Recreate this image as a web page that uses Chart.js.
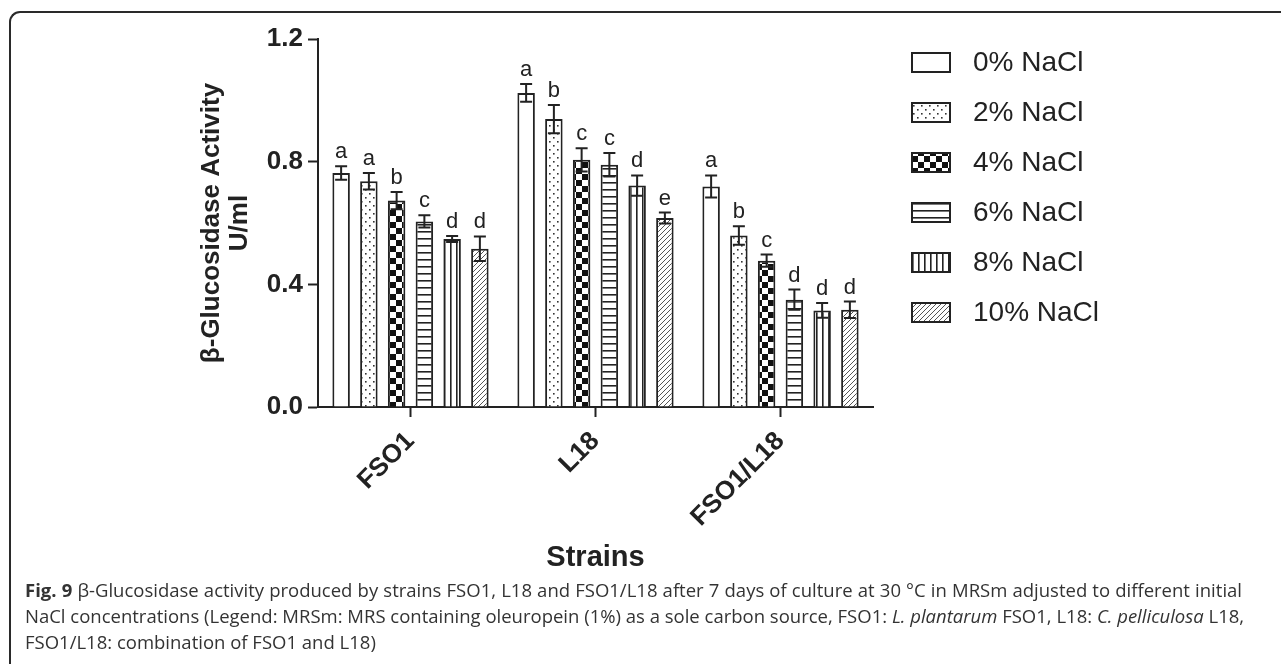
<!DOCTYPE html>
<html>
<head>
<meta charset="utf-8">
<script src="https://cdn.jsdelivr.net/npm/chart.js@4.4.1/dist/chart.umd.min.js"></script>
<style>
  html, body { margin: 0; padding: 0; background: #fff; }
  #wrap { position: relative; width: 1281px; height: 664px; overflow: hidden; }
  #frame {
    position: absolute; left: 9px; top: 11px; width: 1300px; height: 700px;
    border-left: 2px solid #2a2a2a; border-top: 2px solid #2a2a2a;
    border-top-left-radius: 11px;
  }
  #chart { position: absolute; left: 0; top: 0; }
  #caption {
    position: absolute; left: 25px; top: 577px; width: 1217px;
    font-family: "Open Sans", sans-serif; font-size: 18.5px; line-height: 26px; color: #333;
  }
  #caption .ln { white-space: nowrap; text-align: justify; text-align-last: justify; }
  #caption .ln.last { text-align: left; text-align-last: left; }
</style>
</head>
<body>
<div id="wrap">
  <div id="frame"></div>
  <canvas id="chart" width="1281" height="664"></canvas>
  <div id="caption">
    <div class="ln"><b>Fig. 9</b> β-Glucosidase activity produced by strains FSO1, L18 and FSO1/L18 after 7 days of culture at 30 °C in MRSm adjusted to different initial</div>
    <div class="ln">NaCl concentrations (Legend: MRSm: MRS containing oleuropein (1%) as a sole carbon source, FSO1: <i>L. plantarum</i> FSO1, L18: <i>C. pelliculosa</i> L18,</div>
    <div class="ln last">FSO1/L18: combination of FSO1 and L18)</div>
  </div>
</div>
<script>
// strains on the x axis
const strains = ["FSO1", "L18", "FSO1/L18"];
const saltLabels = ["0% NaCl", "2% NaCl", "4% NaCl", "6% NaCl", "8% NaCl", "10% NaCl"];

// mean activity (U/ml) per NaCl level, one value per strain
const nacl0  = [0.763, 1.024, 0.719];
const nacl2  = [0.736, 0.939, 0.559];
const nacl4  = [0.673, 0.806, 0.477];
const nacl6  = [0.605, 0.790, 0.350];
const nacl8  = [0.548, 0.722, 0.315];
const nacl10 = [0.516, 0.616, 0.317];

// standard deviations
const sd0  = [0.022, 0.029, 0.036];
const sd2  = [0.027, 0.046, 0.030];
const sd4  = [0.028, 0.038, 0.020];
const sd6  = [0.020, 0.038, 0.033];
const sd8  = [0.010, 0.033, 0.024];
const sd10 = [0.040, 0.018, 0.027];

// significance letters
const sig0  = ["a", "a", "a"];
const sig2  = ["a", "b", "b"];
const sig4  = ["b", "c", "c"];
const sig6  = ["c", "c", "d"];
const sig8  = ["d", "d", "d"];
const sig10 = ["d", "e", "d"];

const yTicks = [0, 0.4, 0.8, 1.2];

const values = [nacl0, nacl2, nacl4, nacl6, nacl8, nacl10];
const errors = [sd0, sd2, sd4, sd6, sd8, sd10];
const letters = [sig0, sig2, sig4, sig6, sig8, sig10];

const INK = "#222";
const FONT = "'Liberation Sans', Arial, sans-serif";

function tile(w, h, paint) {
  const c = document.createElement("canvas");
  c.width = w; c.height = h;
  const g = c.getContext("2d");
  g.fillStyle = "#fff";
  g.fillRect(0, 0, w, h);
  paint(g);
  return document.getElementById("chart").getContext("2d").createPattern(c, "repeat");
}

// bar fills: open, dotted, checker, horizontal, vertical, hatched
const fills = [
  "#fff",
  tile(8, 8, g => { g.fillStyle = "#333"; g.fillRect(1, 1, 1.6, 1.6); g.fillRect(5, 5, 1.6, 1.6); }),
  tile(12, 12, g => { g.fillStyle = "#111"; g.fillRect(0, 0, 6, 6); g.fillRect(6, 6, 6, 6); }),
  tile(8, 7, g => { g.fillStyle = "#222"; g.fillRect(0, 0, 8, 1.6); }),
  tile(6, 8, g => { g.fillStyle = "#222"; g.fillRect(0, 0, 1.6, 8); }),
  tile(5, 5, g => {
    g.strokeStyle = "#555"; g.lineWidth = 1;
    g.beginPath();
    g.moveTo(-1, 6); g.lineTo(6, -1);
    g.moveTo(-1, 1); g.lineTo(1, -1);
    g.moveTo(4, 6); g.lineTo(6, 4);
    g.stroke();
  })
];

const extras = {
  id: "extras",
  afterDatasetsDraw(chart) {
    const ctx = chart.ctx;
    const y = chart.scales.y;
    ctx.save();
    ctx.strokeStyle = INK;
    ctx.fillStyle = INK;
    ctx.lineWidth = 2;
    values.forEach((vals, d) => {
      const meta = chart.getDatasetMeta(d);
      meta.data.forEach((bar, i) => {
        const top = y.getPixelForValue(vals[i] + errors[d][i]);
        const bot = y.getPixelForValue(vals[i] - errors[d][i]);
        ctx.beginPath();
        ctx.moveTo(bar.x, top); ctx.lineTo(bar.x, bot);
        ctx.moveTo(bar.x - 6, top); ctx.lineTo(bar.x + 6, top);
        ctx.moveTo(bar.x - 6, bot); ctx.lineTo(bar.x + 6, bot);
        ctx.stroke();
        ctx.font = "22px " + FONT;
        ctx.textAlign = "center";
        ctx.textBaseline = "alphabetic";
        ctx.fillText(letters[d][i], bar.x, top - 8);
      });
    });
    ctx.restore();
  },
  afterDraw(chart) {
    const ctx = chart.ctx;
    const area = chart.chartArea;
    ctx.save();
    ctx.fillStyle = INK;

    // y axis title, two lines
    ctx.font = "bold 26px " + FONT;
    ctx.textAlign = "center";
    ctx.textBaseline = "middle";
    const cy = (area.top + area.bottom) / 2;
    ctx.save();
    ctx.translate(212, cy);
    ctx.rotate(-Math.PI / 2);
    ctx.fillText("β-Glucosidase Activity", 0, 0);
    ctx.restore();
    ctx.save();
    ctx.translate(240, cy);
    ctx.rotate(-Math.PI / 2);
    ctx.fillText("U/ml", 0, 0);
    ctx.restore();

    // x axis title
    ctx.font = "bold 29px " + FONT;
    ctx.fillText("Strains", (area.left + area.right) / 2, 558);

    // legend
    chart.data.datasets.forEach((ds, d) => {
      const by = 53 + d * 50;
      ctx.fillStyle = ds.backgroundColor;
      ctx.fillRect(912, by, 38, 19);
      ctx.strokeStyle = INK;
      ctx.lineWidth = 2;
      ctx.strokeRect(912, by, 38, 19);
      ctx.fillStyle = INK;
      ctx.font = "28px " + FONT;
      ctx.textAlign = "left";
      ctx.textBaseline = "middle";
      ctx.fillText(ds.label, 973, by + 10);
    });
    ctx.restore();
  }
};

new Chart(document.getElementById("chart"), {
  type: "bar",
  data: {
    labels: strains,
    datasets: values.map((vals, d) => ({
      label: saltLabels[d],
      data: vals,
      backgroundColor: fills[d],
      borderColor: INK,
      borderWidth: 2,
      categoryPercentage: 0.9,
      barPercentage: 0.63
    }))
  },
  options: {
    responsive: false,
    animation: false,
    events: [],
    layout: { padding: { left: 0, top: 39, right: 408, bottom: 0 } },
    plugins: { legend: { display: false }, tooltip: { enabled: false } },
    scales: {
      x: {
        offset: true,
        grid: { offset: false, drawOnChartArea: false, tickLength: 10, tickWidth: 2, tickColor: INK },
        border: { color: INK, width: 2 },
        ticks: { minRotation: 45, maxRotation: 45, padding: 9, color: INK, font: { family: FONT, size: 26, weight: "bold" } },
        afterFit(s) { s.height = 257; }
      },
      y: {
        min: yTicks[0],
        max: yTicks[yTicks.length - 1],
        afterBuildTicks(s) { s.ticks = yTicks.map(v => ({ value: v })); },
        grid: { drawOnChartArea: false, tickLength: 10, tickWidth: 2, tickColor: INK },
        border: { color: INK, width: 2 },
        ticks: { padding: 5, color: INK, font: { family: FONT, size: 26, weight: "bold" }, callback: v => v.toFixed(1) },
        afterFit(s) { s.width = 318; }
      }
    }
  },
  plugins: [extras]
});
</script>
</body>
</html>
